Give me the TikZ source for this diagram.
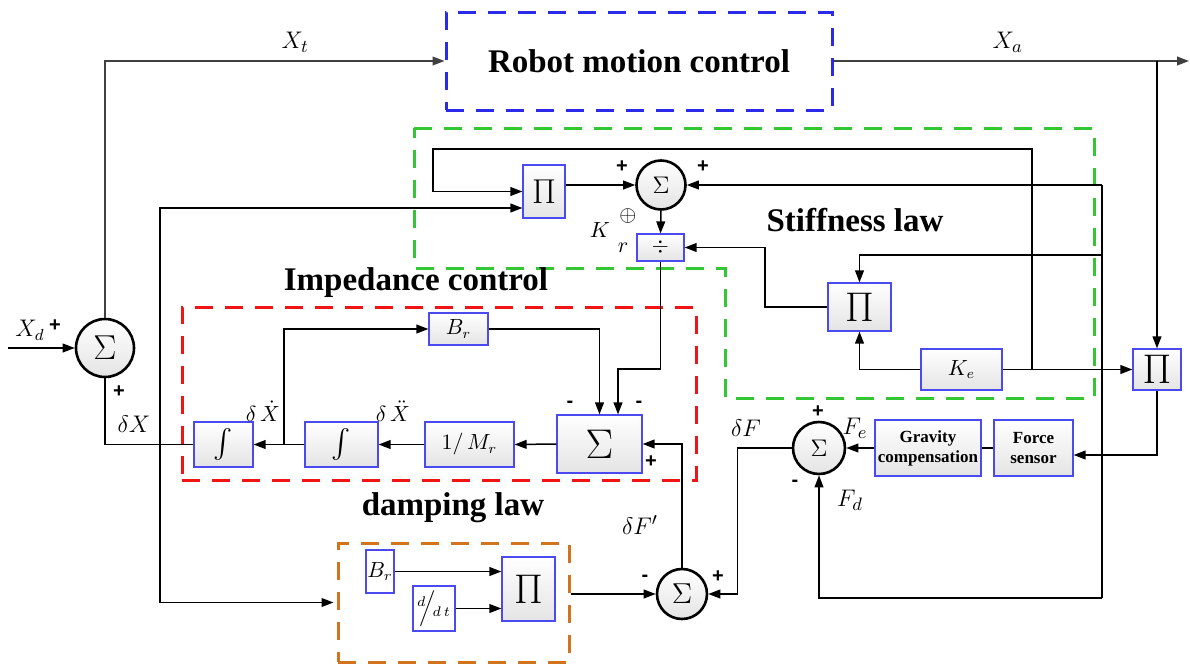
\documentclass[tikz,border=0pt]{standalone}
\usepackage{amsmath}
\usepackage{fontspec}
\setmainfont{Liberation Serif}
\setsansfont{Liberation Sans}
\usepackage{xcolor}
\usepackage{tikz}
\usetikzlibrary{
  arrows.meta,
  calc
}
\definecolor{BoxBlue}{HTML}{4A4AF0}
\definecolor{BoxShade}{HTML}{E4E4E4}
\definecolor{GroupBlue}{HTML}{2A2AE8}
\definecolor{GroupGreen}{HTML}{33C833}
\definecolor{GroupRed}{HTML}{F01414}
\definecolor{GroupOrange}{HTML}{D2731E}
\definecolor{WireGray}{HTML}{404040}
\tikzset{
  block/.style={
    draw=BoxBlue,
    line width=0.6pt,
    top color=white,
    bottom color=BoxShade,
    inner sep=0pt,
    align=center
  },
  sumnode/.style={
    circle,
    draw,
    line width=1.3pt,
    top color=white,
    bottom color=BoxShade,
    inner sep=0pt
  },
  group/.style={
    line width=1.5pt,
    dash pattern=on 9pt off 6pt
  },
  heading/.style={
    font=\fontsize{16.5}{19}\selectfont\bfseries
  },
  signlabel/.style={
    font=\sffamily\bfseries\fontsize{10}{10}\selectfont,
    inner sep=0pt
  },
  siglabel/.style={
    font=\fontsize{13}{13}\selectfont,
    inner sep=0pt
  },
  wire/.style={
    line width=0.75pt
  },
  connection/.style={
    wire,
    -{Triangle[length=6pt,width=4.4pt]}
  }
}

\begin{document}
\begin{tikzpicture}[x=0.5pt, y=-0.5pt]

  \useasboundingbox (0,0) rectangle (1190,664);

  \node[
    group,
    draw=GroupBlue,
    heading,
    minimum width=193pt,
    minimum height=49pt
  ] (robot) at (639,61) {Robot motion control};

  \node[
    group,
    draw=GroupRed,
    minimum width=257pt,
    minimum height=86.5pt
  ] (impbox) at (439,393.5) {};

  \node[
    group,
    draw=GroupOrange,
    minimum width=115.5pt,
    minimum height=59.5pt
  ] (damp) at (453.5,602.5) {};

  \draw[group, GroupGreen]
  (414,128) -- (1094,128) -- (1094,398) -- (725,398) -- (725,268) -- (414,268) -- cycle;

  \node[heading] (stifflab) at (855,220) {Stiffness law};
  \node[heading] (implab) at (416,283) {Impedance control};
  \node[heading] (damplab) at (453,508) {damping law};

  % summing junctions
  \node[sumnode, minimum size=29pt, font=\fontsize{17}{17}\selectfont] (sumd) at (105,348) {$\Sigma$};
  \node[sumnode, minimum size=24.5pt, font=\fontsize{12}{12}\selectfont] (sumk) at (661,185) {$\Sigma$};
  \node[sumnode, minimum size=26pt, font=\fontsize{13}{13}\selectfont] (sumf) at (819,448) {$\Sigma$};
  \node[sumnode, minimum size=25pt, font=\fontsize{14}{14}\selectfont] (sumb) at (682,594) {$\Sigma$};

  % stiffness law
  \node[
    block,
    minimum width=21pt,
    minimum height=26.5pt,
    font=\fontsize{17}{17}\selectfont
  ] (pitop) at (544,191.5) {$\Pi$};

  \node[
    block,
    minimum width=23.5pt,
    minimum height=13.5pt,
    font=\fontsize{11}{11}\selectfont
  ] (divk) at (660.5,247.5) {$\div$};

  \node[
    block,
    minimum width=31.5pt,
    minimum height=24pt,
    font=\fontsize{20.5}{20.5}\selectfont
  ] (pimid) at (859.5,307) {$\Pi$};

  \node[
    block,
    minimum width=40.5pt,
    minimum height=20.5pt,
    font=\fontsize{10.5}{10.5}\selectfont
  ] (ke) at (961.5,369.5) {$K_e$};

  \node[
    block,
    minimum width=24pt,
    minimum height=20.5pt,
    font=\fontsize{22}{22}\selectfont
  ] (piout) at (1157,369.5) {$\Pi$};

  % force feedback
  \node[
    block,
    minimum width=39.5pt,
    minimum height=28pt,
    font=\fontsize{8.5}{10}\selectfont\bfseries
  ] (sensor) at (1033.5,448) {Force\\sensor};

  \node[
    block,
    minimum width=53pt,
    minimum height=28pt,
    font=\fontsize{8.5}{10}\selectfont\bfseries
  ] (gravity) at (928,448) {Gravity\\compensation};

  % impedance control
  \node[
    block,
    minimum width=42.5pt,
    minimum height=29pt,
    font=\fontsize{20}{20}\selectfont
  ] (sumi) at (599.5,444) {$\Sigma$};

  \node[
    block,
    minimum width=44.5pt,
    minimum height=22.5pt,
    font=\fontsize{10.5}{10.5}\selectfont
  ] (invm) at (469.5,444.5) {$1/\,M_r$};

  \node[
    block,
    minimum width=36.5pt,
    minimum height=22.5pt,
    font=\fontsize{15}{15}\selectfont
  ] (int2) at (341.5,444.5) {$\int$};

  \node[
    block,
    minimum width=29.5pt,
    minimum height=22.5pt,
    font=\fontsize{15}{15}\selectfont
  ] (int1) at (223.5,444.5) {$\int$};

  \node[
    block,
    minimum width=29.5pt,
    minimum height=16pt,
    font=\fontsize{10.5}{10.5}\selectfont
  ] (br) at (458.5,329) {$B_r$};

  % damping law
  \node[
    block,
    minimum width=14pt,
    minimum height=21.5pt,
    top color=white,
    bottom color=white,
    font=\fontsize{10.5}{10.5}\selectfont
  ] (brd) at (380,571.5) {$B_r$};

  \node[
    block,
    minimum width=21pt,
    minimum height=22.5pt,
    top color=white,
    bottom color=white,
    font=\fontsize{10}{10}\selectfont
  ] (ddt) at (434,608.5) {$^{d}\!\!\Big/\!_{d\,t}$};

  \node[
    block,
    minimum width=26.5pt,
    minimum height=32pt,
    font=\fontsize{20}{20}\selectfont
  ] (pid) at (528.5,589) {$\Pi$};

  % branch points
  \coordinate (xdin) at (8,348);
  \coordinate (xaout) at (1189,61);
  \coordinate (dxtap) at (160,444.5);
  \coordinate (xdtap) at (284,444.5);
  \coordinate (kej) at (1032,369.5);
  \coordinate (looptl) at (433,149);
  \coordinate (bustop) at (1102,185);
  \coordinate (busmid) at (1102,255);
  \coordinate (busbot) at (1102,598);
  \coordinate (pitopin2) at ([yshift=-8.25pt]pitop.west);
  \coordinate (sumin2) at ([xshift=9.25pt]sumi.north);

  % connectors
  \draw[connection] (xdin) -- (sumd.west);
  \draw[connection, color=WireGray] (sumd.north) |- (robot.west)
    node[siglabel, text=black, pos=0.78, above=4pt] (xtlab) {$X_t$};
  \draw[connection, color=WireGray] (robot.east) -- (xaout)
    node[siglabel, text=black, pos=0.49, above=4pt] (xalab) {$X_a$};
  \draw[connection] (robot.east -| piout.north) -- (piout.north);
  \draw[wire] (int1.west) -| (sumd.south);
  \draw[connection] (dxtap) |- (pitopin2);
  \draw[connection, shorten >=1.5pt] (dxtap) |- (damp.west);

  \draw[connection] (kej) |- (looptl) |- (pitop.west);
  \draw[connection] (ke.east) -- (piout.west);
  \draw[connection] (ke.west) -| (pimid.south);
  \draw[connection] (pitop.east |- sumk.west) -- (sumk.west);
  \draw[connection] (sumk.south) -- (divk.north);
  \draw[connection] (bustop) -- (sumk.east);
  \draw[wire] (bustop) -- (busbot);
  \draw[connection] (busmid) -| (pimid.north);
  \draw[connection] (busbot) -| (sumf.south);
  \draw[connection] (pimid.west) -| (divk.east -| 765,0) -- (divk.east);

  \draw[connection] (divk.south) -- (divk.south |- 0,369) -| (sumin2);
  \draw[connection] (br.east) -| (sumi.north);
  \draw[connection] (sumi.west) -- (invm.east);
  \draw[connection] (invm.west) -- (int2.east);
  \draw[connection] (int2.west) -- (int1.east);
  \draw[connection] (xdtap) |- (br.west);
  \draw[connection] (sumb.north) |- (sumi.east);

  \draw[connection] (sumf.west) -- ++(-54,0) |- (sumb.east);
  \draw[connection] (damp.east |- sumb.west) -- (sumb.west);
  \draw[connection] (brd.east) -- (brd.east -| pid.west);
  \draw[connection] (ddt.east) -- (ddt.east -| pid.west);
  \draw[connection] (piout.south) |- ([yshift=-3.5pt]sensor.east);
  \draw[wire] (sensor.west) -- (gravity.east);
  \draw[connection] (gravity.west) -- (sumf.east);

  % signs and signal names
  \node[siglabel, font=\fontsize{12}{12}\selectfont] (xdlab) at (30,330) {$X_d$};
  \node[signlabel] (xdplus) at (55,326) {+};
  \node[signlabel] (dxplus) at (119,392) {+};
  \node[siglabel] (dxlab) at (134,424) {$\delta X$};
  \node[signlabel] (kplus1) at (622,167) {+};
  \node[signlabel] (kplus2) at (703,167) {+};
  \node[siglabel, font=\fontsize{11}{11}\selectfont] (krk) at (600,230) {$K$};
  \node[siglabel, font=\fontsize{11}{11}\selectfont] (krop) at (628,216) {$\oplus$};
  \node[siglabel, font=\fontsize{11}{11}\selectfont] (krr) at (623,248) {$r$};
  \node[siglabel, font=\fontsize{11}{11}\selectfont] (dxdlab) at (263,411) {$\delta\,\dot{X}$};
  \node[siglabel, font=\fontsize{11}{11}\selectfont] (dxddlab) at (393,411) {$\delta\,\ddot{X}$};
  \node[signlabel] (iminus1) at (570,404) {-};
  \node[signlabel] (iminus2) at (639,404) {-};
  \node[signlabel] (iplus) at (651,462) {+};
  \node[siglabel] (dflab) at (746,428) {$\delta F$};
  \node[signlabel] (fplus) at (818,412) {+};
  \node[siglabel] (felab) at (855,428) {$F_e$};
  \node[signlabel] (fminus) at (795,483) {-};
  \node[siglabel] (fdlab) at (850,500) {$F_d$};
  \node[siglabel] (dfplab) at (640,525) {$\delta F'$};
  \node[signlabel] (bminus) at (645,578) {-};
  \node[signlabel] (bplus) at (718,577) {+};

\end{tikzpicture}
\end{document}
